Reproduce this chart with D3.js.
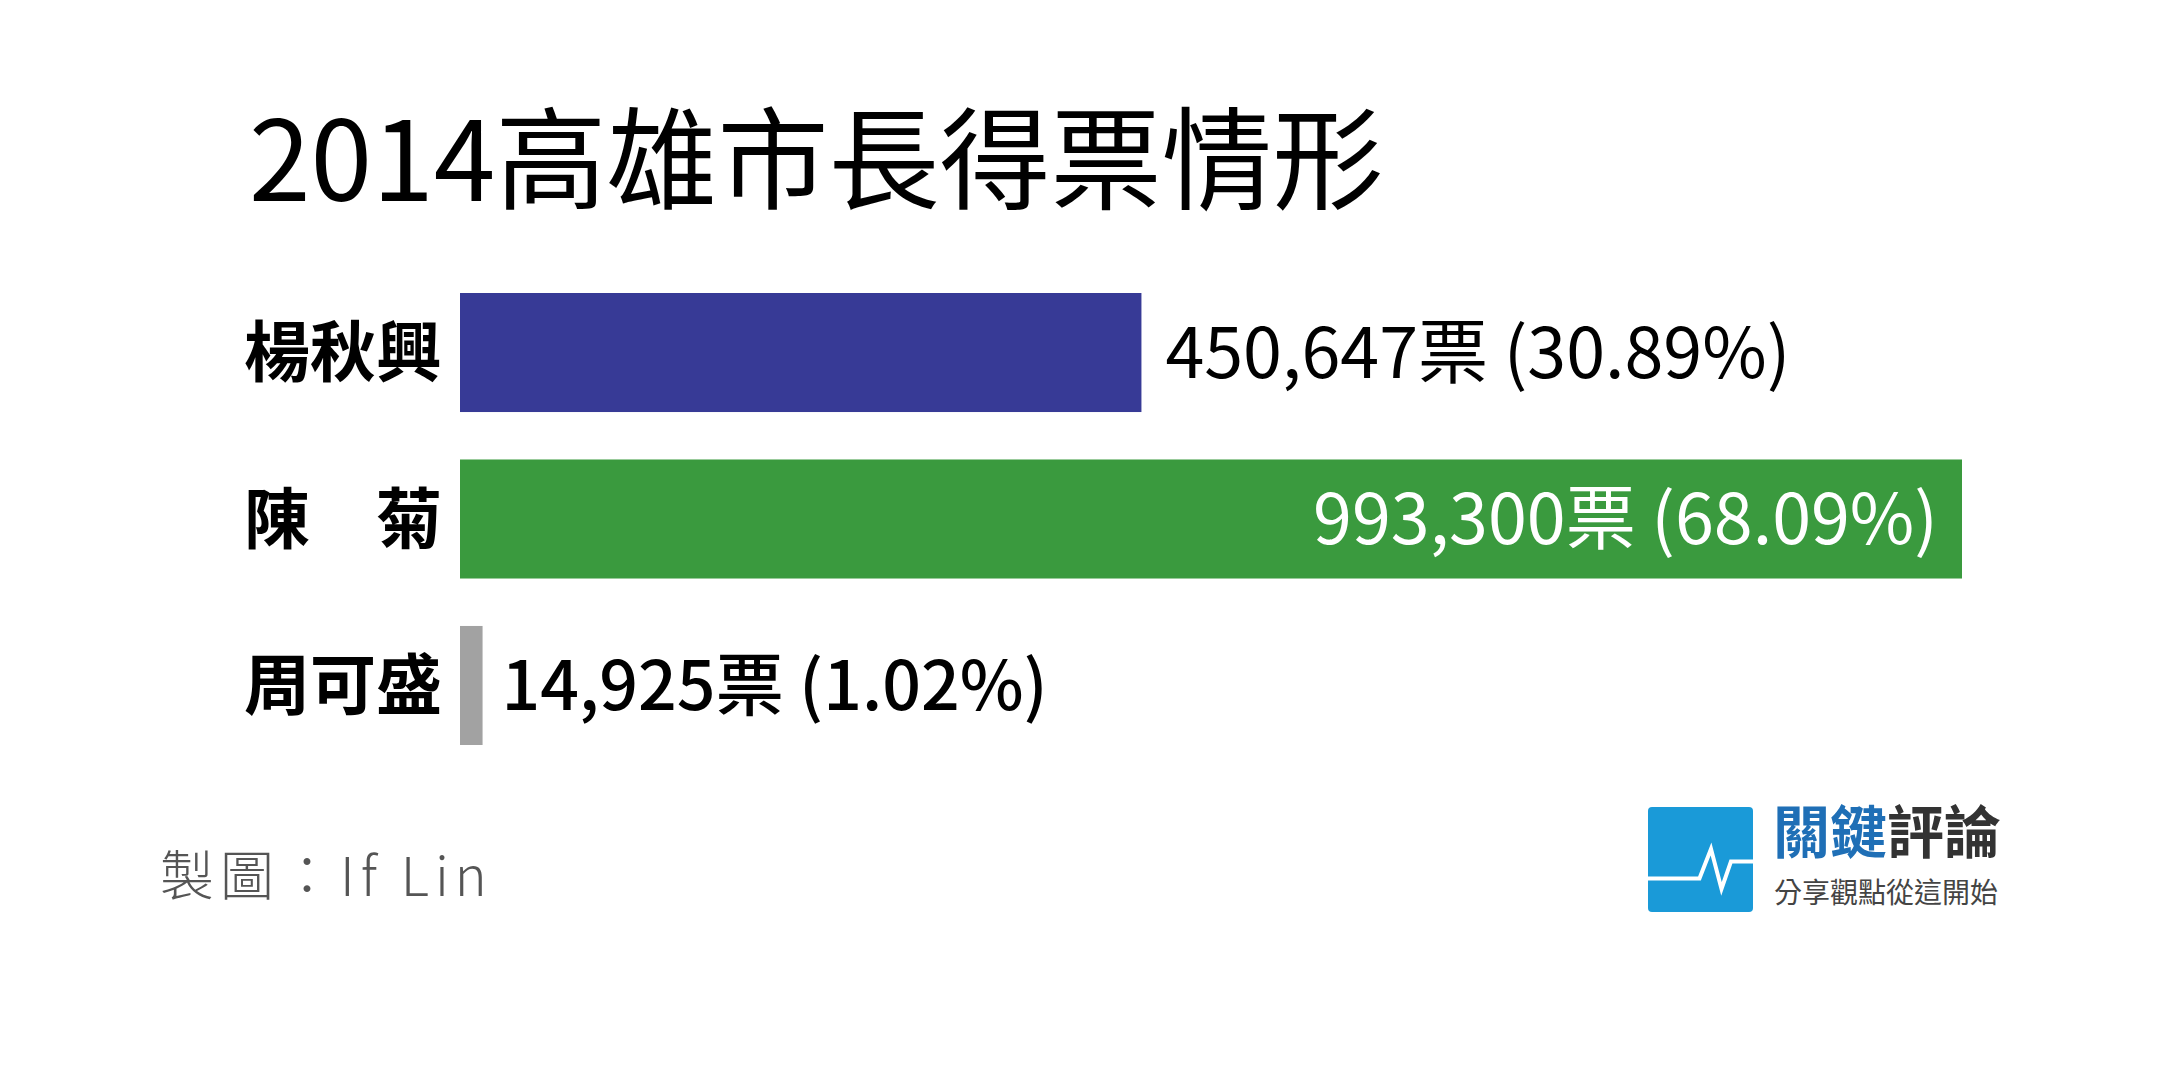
<!DOCTYPE html>
<html><head><meta charset="utf-8">
<script src="https://cdn.jsdelivr.net/npm/d3@7"></script>
<style>body{margin:0;background:#fff;}svg{display:block;}</style>
</head><body>
<script>
const candidates = ["楊秋興", "陳　菊", "周可盛"];
const votes = [450647, 993300, 14925];
const percents = ["30.89%", "68.09%", "1.02%"];
const colors = ["#373a96", "#3a9a3e", "#a2a2a2"];
const insideLabel = [false, true, false];

const W = 2160, H = 1073;
const font = "'Noto Sans CJK TC','Noto Sans CJK SC',sans-serif";
const svg = d3.select("body").append("svg").attr("width", W).attr("height", H);
svg.append("rect").attr("width", W).attr("height", H).attr("fill", "#fff");

svg.append("text").attr("x", 249).attr("y", 201)
  .attr("font-family", font).attr("font-size", 111).attr("font-weight", 400)
  .attr("fill", "#000").text("2014高雄市長得票情形");

const x = d3.scaleLinear().domain([0, 993300]).range([460, 1962]);
const y = d3.scaleBand().domain(candidates).range([293, 745]).paddingInner(0.285).paddingOuter(0);

const data = candidates.map((c, i) => ({c, i, v: votes[i], p: percents[i], col: colors[i], inside: insideLabel[i]}));

const g = svg.append("g");
g.selectAll("rect.bar").data(data).join("rect").attr("class", "bar")
  .attr("x", x(0)).attr("y", d => y(d.c))
  .attr("width", d => x(d.v) - x(0)).attr("height", y.bandwidth())
  .attr("fill", d => d.col);

g.selectAll("text.name").data(data).join("text").attr("class", "name")
  .attr("x", 442).attr("y", d => y(d.c) + y.bandwidth() / 2)
  .attr("dy", "0.36em").attr("text-anchor", "end")
  .attr("font-family", font).attr("font-size", 66).attr("font-weight", 700)
  .attr("fill", "#000").text(d => d.c);

const fmt = d3.format(",");
g.selectAll("text.val").data(data).join("text").attr("class", "val")
  .attr("x", d => d.inside ? x(d.v) - 24 : x(d.v) + (d.i === 2 ? 19 : 24))
  .attr("y", d => y(d.c) + y.bandwidth() / 2)
  .attr("dy", "0.36em").attr("text-anchor", d => d.inside ? "end" : "start")
  .attr("font-family", font).attr("font-size", d => d.i === 2 ? 68 : 70)
  .attr("font-weight", d => d.i === 2 ? 500 : 400)
  .attr("fill", d => d.inside ? "#fff" : "#000")
  .text(d => fmt(d.v) + "票 (" + d.p + ")");

svg.append("text").attr("x", 160).attr("y", 896)
  .attr("font-family", font).attr("font-size", 54).attr("font-weight", 300)
  .attr("fill", "#555").attr("letter-spacing", 6).text("製圖：If Lin");

// logo
const lg = svg.append("g").attr("transform", "translate(1648,807)");
const s = 105;
lg.append("rect").attr("width", s).attr("height", s).attr("rx", 4).attr("fill", "#1a9ad8");
const pts = [[0,0.68],[0.49,0.68],[0.60,0.40],[0.70,0.78],[0.79,0.52],[1,0.52]];
lg.append("path").attr("d", d3.line()(pts.map(p => [p[0]*s, p[1]*s])))
  .attr("fill", "none").attr("stroke", "#fff").attr("stroke-width", 4).attr("stroke-linejoin", "miter");
const t1 = svg.append("text").attr("x", 1773).attr("y", 853)
  .attr("font-family", font).attr("font-size", 57).attr("font-weight", 700);
t1.append("tspan").attr("fill", "#1f6fb6").text("關鍵");
t1.append("tspan").attr("fill", "#333").text("評論");
svg.append("text").attr("x", 1774).attr("y", 903)
  .attr("font-family", font).attr("font-size", 28).attr("font-weight", 400)
  .attr("fill", "#444").text("分享觀點從這開始");
</script>
</body></html>
